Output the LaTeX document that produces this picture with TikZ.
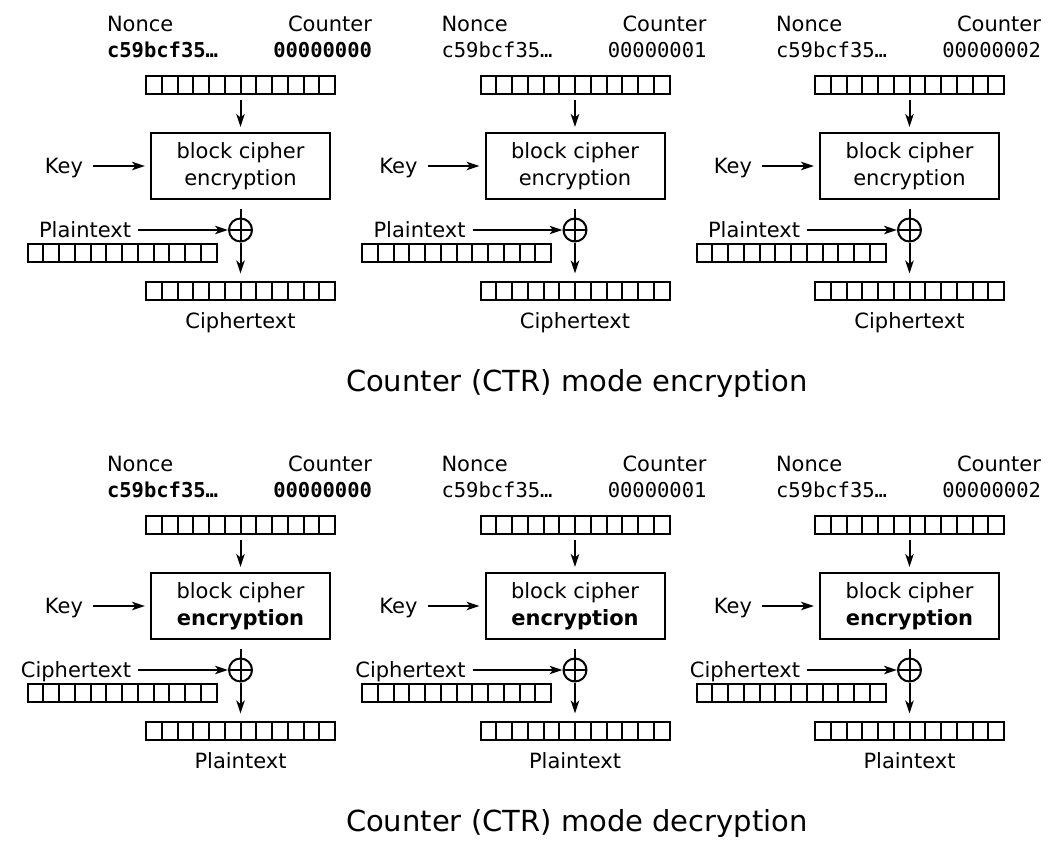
\documentclass[tikz,border=0pt]{standalone}
\usepackage{fontspec}
\setmainfont{DejaVu Sans}
\setmonofont{DejaVu Sans Mono}
\usetikzlibrary{arrows.meta}

\begin{document}
\begin{tikzpicture}[
    x=1pt, y=-1pt,
    >={Stealth[length=13pt, width=8.5pt, inset=3.5pt]},
    line width=2pt,
    font=\fontsize{21}{27}\selectfont,
    % Styles
    lbl/.style={inner sep=0pt, text depth=0pt},
    hexval/.style={lbl, font=\ttfamily\fontsize{20.5}{20.5}\selectfont},
    title/.style={lbl, anchor=west, font=\fontsize{29}{29}\selectfont},
    register/.style={draw, inner sep=0pt, minimum width=189pt, minimum height=18pt,
        path picture={
            \foreach \i in {1,...,11}
                \draw ([xshift=\i*15.75pt]path picture bounding box.south west)
                    -- ([xshift=\i*15.75pt]path picture bounding box.north west);
        }},
    cipher/.style={draw, inner sep=0pt, minimum width=179pt, minimum height=66pt, align=center},
    xor/.style={draw, circle, inner sep=0pt, minimum size=23pt,
        path picture={
            \draw (path picture bounding box.north) -- (path picture bounding box.south);
            \draw (path picture bounding box.west) -- (path picture bounding box.east);
        }},
    arrow/.style={->}
]
\useasboundingbox (0,0) rectangle (1061,855);

% --- TOP: ENCRYPTION ---
\foreach \col/\cnt in {0/00000000, 1/00000001, 2/00000002} {
\begin{scope}[shift={(\col*334.5, 0)}]
    % Nonce and counter
    \node[lbl, anchor=west] (nonce-e\col) at (106, 24) {Nonce};
    \node[lbl, anchor=east] (count-e\col) at (373, 24) {Counter};
    \node[hexval, anchor=west] (nval-e\col) at (106, 50) {\ifnum\col=0 \bfseries\fi c59bcf35…};
    \node[hexval, anchor=east] (cval-e\col) at (373, 50) {\ifnum\col=0 \bfseries\fi \cnt};
    \node[register] (in-e\col) at (240.5, 85) {};

    % Block cipher
    \node[cipher] (enc-e\col) at (240.5, 166) {block cipher\\encryption};
    \node[lbl, anchor=east] (key-e\col) at (84, 166) {Key};

    % XOR with plaintext
    \node[xor] (xor-e\col) at (240.5, 230) {};
    \node[lbl, anchor=east] (pt-e\col) at (132, 230) {Plaintext};
    \node[register] (ptreg-e\col) at (122, 253) {};
    \node[register] (out-e\col) at (240.5, 290.5) {};
    \node[lbl] (ct-e\col) at (240.5, 321) {Ciphertext};

    % Arrows
    \draw[arrow, shorten <=5pt, shorten >=5pt] (in-e\col) -- (enc-e\col);
    \draw[arrow, shorten <=9pt, shorten >=5pt] (key-e\col) -- (enc-e\col);
    \draw[shorten <=9pt] (enc-e\col) -- (xor-e\col);
    \draw[arrow, shorten <=6pt] (pt-e\col) -- (xor-e\col);
    \draw[arrow, shorten >=7pt] (xor-e\col) -- (out-e\col);
\end{scope}
}
\node[title] (title-e) at (345, 380) {Counter (CTR) mode encryption};

% --- BOTTOM: DECRYPTION ---
\foreach \col/\cnt in {0/00000000, 1/00000001, 2/00000002} {
\begin{scope}[shift={(\col*334.5, 440)}]
    % Nonce and counter
    \node[lbl, anchor=west] (nonce-d\col) at (106, 24) {Nonce};
    \node[lbl, anchor=east] (count-d\col) at (373, 24) {Counter};
    \node[hexval, anchor=west] (nval-d\col) at (106, 50) {\ifnum\col=0 \bfseries\fi c59bcf35…};
    \node[hexval, anchor=east] (cval-d\col) at (373, 50) {\ifnum\col=0 \bfseries\fi \cnt};
    \node[register] (in-d\col) at (240.5, 85) {};

    % Block cipher (still encryption!)
    \node[cipher] (enc-d\col) at (240.5, 166) {block cipher\\\textbf{encryption}};
    \node[lbl, anchor=east] (key-d\col) at (84, 166) {Key};

    % XOR with ciphertext
    \node[xor] (xor-d\col) at (240.5, 230) {};
    \node[lbl, anchor=east] (ct-d\col) at (132, 230) {Ciphertext};
    \node[register] (ctreg-d\col) at (122, 253) {};
    \node[register] (out-d\col) at (240.5, 290.5) {};
    \node[lbl] (pt-d\col) at (240.5, 321) {Plaintext};

    % Arrows
    \draw[arrow, shorten <=5pt, shorten >=5pt] (in-d\col) -- (enc-d\col);
    \draw[arrow, shorten <=9pt, shorten >=5pt] (key-d\col) -- (enc-d\col);
    \draw[shorten <=9pt] (enc-d\col) -- (xor-d\col);
    \draw[arrow, shorten <=6pt] (ct-d\col) -- (xor-d\col);
    \draw[arrow, shorten >=7pt] (xor-d\col) -- (out-d\col);
\end{scope}
}
\node[title] (title-d) at (345, 820) {Counter (CTR) mode decryption};

\end{tikzpicture}
\end{document}
